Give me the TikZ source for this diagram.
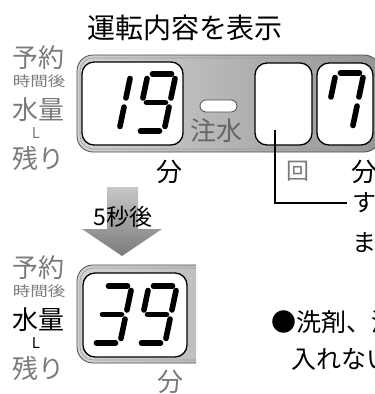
\documentclass[tikz,border=0pt]{standalone}
\usepackage{fontspec}
\setmainfont{Noto Sans CJK JP}
\usepackage{graphicx}

\tikzset{
  seg/.style={line width=5.6pt, line cap=round, black},
  dispbox/.style={fill=white, draw=black, line width=1.3pt, rounded corners=12pt},
  panel/.style={left color=black!17, right color=black!42, draw=black!70, line width=0.8pt, rounded corners=16pt},
  bevel/.style={draw=black!40, line width=0.6pt, rounded corners=13pt},
  glabel/.style={inner sep=0pt, text=black!52, font=\fontsize{26pt}{26pt}\selectfont},
  blabel/.style={inner sep=0pt, text=black, font=\fontsize{26pt}{26pt}\selectfont},
}

% segments of one digit (width 28, height 57)
\def\digitone{28/52.5/28/33, 28/24/28/4.5}
\def\digitthree{4.5/57/23.5/57, 28/52.5/28/33, 28/24/28/4.5, 4.5/0/23.5/0, 4.5/28.5/23.5/28.5}
\def\digitseven{4.5/57/23.5/57, 28/52.5/28/33, 28/24/28/4.5, 0/33/0/52.5}
\def\digitnine{4.5/57/23.5/57, 28/52.5/28/33, 28/24/28/4.5, 4.5/0/23.5/0, 0/33/0/52.5, 4.5/28.5/23.5/28.5}

\newcommand{\segdigit}[3]{%
  \begin{scope}[shift={(#1,#2)}, y=1pt, xslant=0.21]
    \foreach \ua/\va/\ub/\vb in #3 {\draw [seg] (\ua,\va) -- (\ub,\vb);}
  \end{scope}}

\begin{document}
\begin{tikzpicture}[x=1pt, y=-1pt]
    \useasboundingbox (0,0) rectangle (375,394);
    \clip (0,0) rectangle (375,394);

    % title
    \node [blabel, font=\fontsize{28pt}{28pt}\selectfont] (title) at (185,28) {運転内容を表示};

    %%%%%%%%%%%%%%%%%%%%%%
    % left labels
    %%%%%%%%%%%%%%%%%%%%%%
    \foreach \dy/\volcol/\tg in {0/black!52/up, 210/black/dn} {
        \begin{scope}[shift={(0,\dy)}]
            \node [glabel] (yoyaku\tg) at (38.5,57.5) {予約};
            \node [glabel, font=\fontsize{14pt}{14pt}\selectfont] (jikan\tg) at (39,81.5) {\scalebox{1.25}[1]{時間後}};
            \node [glabel, text=\volcol] (suiryo\tg) at (38.5,110) {水量};
            \node [glabel, text=\volcol, font=\fontsize{15pt}{15pt}\selectfont] (liter\tg) at (36,133) {L};
            \node [glabel] (nokori\tg) at (38.5,158.5) {残り};
        \end{scope}
    }

    %%%%%%%%%%%%%%%%%%%%%%
    % upper display
    %%%%%%%%%%%%%%%%%%%%%%
    \draw [panel] (77,55) rectangle (380,152);
    \draw [bevel] (80,58) rectangle (377,149);
    \draw [dispbox] (82,62) rectangle (183,145);
    \draw [dispbox] (255,63) rectangle (312,145);
    \draw [dispbox] (317,63) rectangle (373,145);

    \segdigit{91}{131}{\digitone}
    \segdigit{136}{131}{\digitnine}
    \segdigit{324}{130}{\digitseven}

    % water indicator
    \draw [fill=white, draw=black!70, line width=0.8pt, rounded corners=6pt] (200,100) rectangle (237,112);
    \node [glabel, text=black!60] (chusui) at (216.5,130.5) {注水};

    \node [blabel] (fununder) at (169,171.5) {分};
    \node [glabel, font=\fontsize{23pt}{23pt}\selectfont] (kai) at (297.5,171.5) {回};
    \node [blabel] (funright) at (364,171.5) {分};

    % leader line
    \coordinate (leadstart) at (275,130);
    \coordinate (leadend) at (347,203);
    \draw [line width=1.2pt] (leadstart) |- (leadend);
    \node [blabel, font=\fontsize{24pt}{24pt}\selectfont] (su) at (364,203) {す};
    \node [blabel, font=\fontsize{24pt}{24pt}\selectfont] (ma) at (364,243) {ま};

    %%%%%%%%%%%%%%%%%%%%%%
    % 5 s arrow
    %%%%%%%%%%%%%%%%%%%%%%
    \shade [top color=black!22, bottom color=black!52] (107,187) -- (138,187) -- (138,229) -- (162,229) -- (122,256) -- (82,229) -- (107,229) -- cycle;
    \node [blabel, font=\fontsize{23pt}{23pt}\selectfont] (gobyo) at (123,217) {5秒後};

    %%%%%%%%%%%%%%%%%%%%%%
    % lower display
    %%%%%%%%%%%%%%%%%%%%%%
    \begin{scope}
        \clip (0,0) rectangle (196,394);
        \draw [panel, right color=black!28] (77,265) rectangle (240,363);
        \draw [bevel] (80,268) rectangle (237,360);
    \end{scope}
    \draw [dispbox] (83,273) rectangle (187,357);

    \segdigit{92}{343}{\digitthree}
    \segdigit{137}{343}{\digitnine}
    \node [glabel] (funlow) at (170,382) {分};

    % notes
    \node [blabel, anchor=west, font=\fontsize{25pt}{25pt}\selectfont] (noteone) at (271,322) {●洗剤、洗};
    \node [blabel, anchor=west, font=\fontsize{25pt}{25pt}\selectfont] (notetwo) at (291,359) {入れない};
\end{tikzpicture}
\end{document}
